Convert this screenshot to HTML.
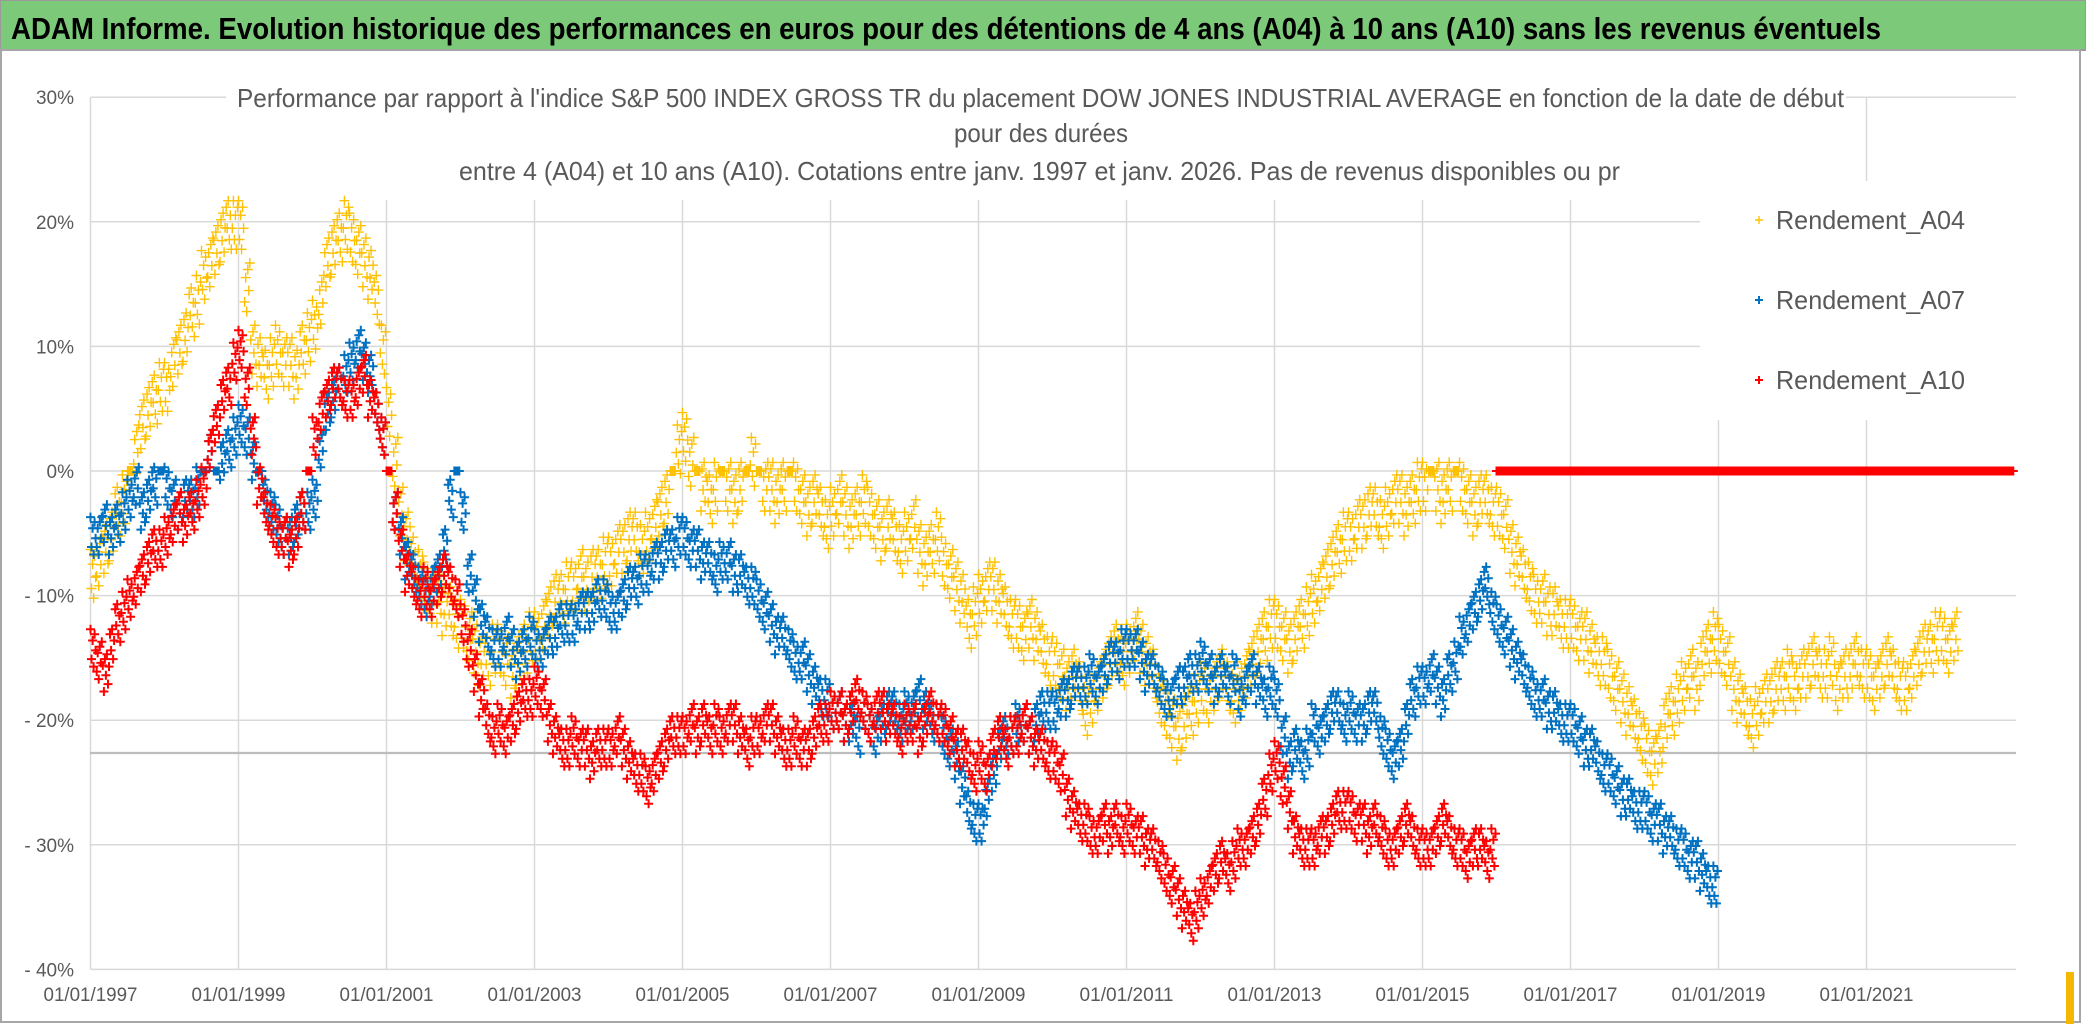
<!DOCTYPE html>
<html><head><meta charset="utf-8"><style>
html,body{margin:0;padding:0;background:#fff;width:2086px;height:1031px;overflow:hidden}
svg{display:block;font-family:"Liberation Sans",sans-serif}
</style></head><body>
<svg id="chart" width="2086" height="1031" viewBox="0 0 2086 1031" xmlns="http://www.w3.org/2000/svg">
<rect x="0" y="0" width="2086" height="1031" fill="#fff"/>
<rect x="0" y="0" width="2086" height="50" fill="#7dc97a" stroke="#9a9a9a" stroke-width="2"/>
<text x="11" y="39" font-size="31" font-weight="bold" fill="#000" textLength="1870" lengthAdjust="spacingAndGlyphs">ADAM Informe. Evolution historique des performances en euros pour des détentions de 4 ans (A04) à 10 ans (A10) sans les revenus éventuels</text>
<rect x="1" y="50" width="2079" height="972" fill="none" stroke="#a6a6a6" stroke-width="2"/>
<rect x="2066" y="972" width="8" height="52" fill="#f5b800"/>
<g id="grid"></g>
<rect x="226" y="75" width="1620" height="125" fill="#fff"/>
<rect x="1700" y="181" width="318" height="239" fill="#fff"/>
<line x1="90" y1="753" x2="2016" y2="753" stroke="#bdbdbd" stroke-width="2.2"/>
<g id="axes"></g>
<g id="marks"></g>
<g font-size="26" fill="#595959">
<text x="237" y="107" textLength="1607" lengthAdjust="spacingAndGlyphs">Performance par rapport à l'indice S&amp;P 500 INDEX GROSS TR  du placement DOW JONES INDUSTRIAL AVERAGE en fonction de la date de début</text>
<text x="954" y="142" textLength="174" lengthAdjust="spacingAndGlyphs">pour des durées</text>
<text x="459" y="180" textLength="1161" lengthAdjust="spacingAndGlyphs">entre 4 (A04) et 10 ans (A10). Cotations entre janv. 1997 et janv. 2026. Pas de revenus disponibles ou pr</text>
</g>
<g id="legend"></g>
</svg>
<script>
const NS="http://www.w3.org/2000/svg";
const yTicks=[30,20,10,0,-10,-20,-30,-40];
const yTickLabels=["30%","20%","10%","0%","- 10%","- 20%","- 30%","- 40%"];
const xTickYears=[1997,1999,2001,2003,2005,2007,2009,2011,2013,2015,2017,2019,2021];
const xTickLabels=["01/01/1997","01/01/1999","01/01/2001","01/01/2003","01/01/2005","01/01/2007","01/01/2009","01/01/2011","01/01/2013","01/01/2015","01/01/2017","01/01/2019","01/01/2021"];
const seriesNames=["Rendement_A04","Rendement_A07","Rendement_A10"];
const a04Start=1997;
const a04=[
-8,-7,-6,-5,-3,-2,0,2,4,5,6,7,
7,9,10,11,13,14,16,17,18,19,20,20,
20,15,10,9,8,9,10,9,9,8,10,11,
12,14,17,18,19,20,19,18,17,16,14,10,
5,1,-3,-5,-7,-8,-9,-10,-10,-11,-11,-12,
-12,-13,-14,-15,-15,-14,-14,-15,-16,-15,-14,-13,
-13,-12,-11,-10,-10,-9,-9,-8,-9,-8,-8,-7,
-7,-6,-6,-5,-5,-6,-5,-4,-3,-2,0,2,
3,1,0,-1,-2,-1,0,-1,-2,-1,0,1,
0,-1,-1,-2,-1,0,-1,-2,-3,-2,-3,-4,
-3,-2,-3,-4,-3,-2,-3,-4,-5,-4,-5,-6,
-5,-4,-6,-7,-6,-5,-7,-8,-9,-10,-12,-11,
-10,-9,-9,-10,-11,-12,-12,-13,-12,-13,-14,-15,
-15,-16,-17,-16,-17,-19,-18,-17,-16,-15,-14,-15,
-14,-13,-14,-15,-16,-18,-19,-20,-21,-20,-19,-18,
-17,-18,-17,-16,-17,-18,-17,-16,-15,-14,-13,-12,
-12,-13,-14,-13,-12,-11,-10,-9,-8,-7,-6,-5,
-5,-4,-4,-3,-3,-4,-3,-2,-2,-3,-2,-1,
-1,0,-1,-2,-1,0,-1,-2,-3,-2,-2,-3,
-3,-4,-6,-7,-8,-9,-10,-10,-11,-11,-12,-12,
-12,-13,-13,-14,-15,-15,-16,-17,-18,-19,-20,-21,
-22,-23,-22,-20,-19,-18,-17,-16,-17,-15,-14,-13,
-14,-15,-17,-18,-19,-20,-19,-18,-18,-17,-17,-16,
-17,-16,-16,-15,-16,-16,-15,-17,-16,-16,-15,-16,
-16,-17,-16,-15,-16,-17,-17,-16,-15,-14,-14,-13,
-13,-14,-13];
const a07Start=1997;
const a07=[
-5,-5,-4,-5,-4,-3,-2,-1,-3,-2,-1,0,
-1,-2,-3,-2,-2,-1,0,2,0,1,2,3,
4,3,1,0,-2,-3,-4,-5,-5,-4,-3,-3,
-2,2,5,6,7,8,9,10,9,8,5,3,
0,-3,-5,-7,-8,-9,-10,-9,-8,-6,-2,0,
-3,-8,-10,-12,-13,-14,-14,-13,-14,-15,-14,-13,
-14,-14,-13,-13,-12,-12,-12,-11,-11,-11,-10,-10,
-11,-11,-10,-9,-9,-8,-8,-7,-7,-6,-6,-5,
-5,-6,-6,-7,-7,-8,-7,-7,-8,-8,-9,-9,
-10,-11,-12,-13,-13,-14,-15,-15,-16,-17,-18,-18,
-19,-19,-20,-20,-21,-19,-20,-21,-20,-19,-19,-20,
-19,-19,-18,-19,-20,-20,-21,-22,-23,-25,-27,-28,
-28,-26,-24,-22,-21,-21,-20,-20,-21,-20,-19,-19,
-19,-18,-18,-17,-17,-17,-16,-17,-16,-15,-15,-14,
-14,-14,-15,-16,-16,-17,-18,-18,-17,-17,-16,-16,
-15,-16,-17,-16,-17,-16,-18,-17,-16,-17,-18,-17,
-18,-21,-23,-22,-23,-22,-20,-21,-20,-19,-19,-20,
-19,-20,-20,-19,-19,-21,-22,-23,-22,-20,-18,-17,
-17,-16,-17,-18,-16,-15,-13,-12,-11,-10,-9,-11,
-12,-13,-14,-15,-16,-17,-18,-18,-19,-19,-20,-20,
-20,-21,-22,-22,-23,-24,-24,-25,-26,-26,-27,-27,
-27,-28,-28,-29,-29,-30,-30,-31,-31,-32,-33,-33];
const a10Start=1997;
const a10=[
-14,-15,-16,-14,-12,-11,-10,-9,-8,-7,-6,-6,
-5,-4,-3,-4,-3,-2,-1,2,4,6,7,9,
10,7,3,-1,-3,-4,-5,-5,-6,-5,-3,0,
3,5,6,7,7,6,6,7,8,6,5,3,
0,-3,-6,-8,-9,-10,-9,-10,-9,-8,-9,-10,
-12,-14,-16,-18,-20,-21,-20,-21,-20,-19,-18,-18,
-17,-18,-20,-21,-22,-22,-21,-22,-22,-23,-22,-22,
-22,-21,-22,-23,-24,-24,-25,-24,-23,-22,-21,-21,
-21,-20,-21,-20,-21,-20,-21,-20,-20,-21,-22,-21,
-21,-20,-20,-21,-22,-22,-21,-22,-22,-21,-20,-20,
-19,-19,-20,-19,-18,-19,-20,-19,-19,-20,-20,-21,
-20,-20,-21,-20,-19,-20,-20,-21,-22,-22,-23,-24,
-23,-24,-22,-21,-22,-21,-21,-20,-21,-22,-22,-23,
-23,-24,-26,-27,-28,-28,-29,-29,-28,-29,-28,-29,
-28,-29,-29,-30,-30,-31,-32,-33,-34,-35,-36,-35,
-34,-33,-32,-31,-32,-31,-30,-30,-29,-28,-26,-24,
-23,-25,-27,-29,-30,-30,-30,-29,-29,-28,-27,-27,
-27,-28,-28,-29,-28,-29,-30,-30,-29,-28,-29,-30,
-30,-30,-29,-28,-29,-30,-30,-31,-30,-30,-31,-30,
0,0,0,0,0,0,0,0,0,0,0,0,
0,0,0,0,0,0,0,0,0,0,0,0,
0,0,0,0,0,0,0,0,0,0,0,0,
0,0,0,0,0,0,0,0,0,0,0,0,
0,0,0,0,0,0,0,0,0,0,0,0,
0,0,0,0,0,0,0,0,0,0,0,0,
0,0,0,0,0,0,0,0,0,0,0,0];

const X0=90.5,PX_PER_YEAR=74,Y0=471,PX_PER_PCT=12.46;
function xScale(year){return X0+(year-1997)*PX_PER_YEAR;}
function yScale(v){return Y0-v*PX_PER_PCT;}

const grid=document.getElementById('grid');
yTicks.forEach((t,i)=>{
  const l=document.createElementNS(NS,'line');
  l.setAttribute('x1',X0);l.setAttribute('x2',2016);
  l.setAttribute('y1',yScale(t));l.setAttribute('y2',yScale(t));
  l.setAttribute('stroke','#d9d9d9');l.setAttribute('stroke-width','1.5');
  
  
  grid.appendChild(l);
});
xTickYears.forEach((yr,i)=>{
  const l=document.createElementNS(NS,'line');
  l.setAttribute('x1',xScale(yr));l.setAttribute('x2',xScale(yr));
  l.setAttribute('y1',yScale(30));l.setAttribute('y2',yScale(-40));
  l.setAttribute('stroke','#d9d9d9');l.setAttribute('stroke-width','1.5');
  
  
  grid.appendChild(l);
});
const axes=document.getElementById('axes');
yTicks.forEach((t,i)=>{
  const tx=document.createElementNS(NS,'text');
  tx.setAttribute('x',74);tx.setAttribute('y',yScale(t)+7);
  tx.setAttribute('text-anchor','end');tx.setAttribute('font-size','19');tx.setAttribute('fill','#595959');
  tx.textContent=yTickLabels[i];
  
  
  axes.appendChild(tx);
});
xTickYears.forEach((yr,i)=>{
  const tx=document.createElementNS(NS,'text');
  tx.setAttribute('x',xScale(yr)-47);tx.setAttribute('y',1001);
  tx.setAttribute('font-size','19');tx.setAttribute('fill','#595959');
  tx.setAttribute('textLength','94');tx.setAttribute('lengthAdjust','spacingAndGlyphs');
  tx.textContent=xTickLabels[i];
  
  
  axes.appendChild(tx);
});

const marks=document.getElementById('marks');
const offs=[1.3,-1.1,0.4,-1.7,0.9,-0.4];
function plus(x,y,arm){
  return 'M'+(x-arm).toFixed(1)+' '+y.toFixed(1)+'h'+(2*arm)+'M'+x.toFixed(1)+' '+(y-arm).toFixed(1)+'v'+(2*arm);
}
function drawSeries(vals,start,color,w,arm,spread,name){
  const g=document.createElementNS(NS,'g');
  
  
  vals.forEach((v,i)=>{
    const n=v===0?5:6;
    for(let k=0;k<n;k++){
      const t=start+(i+k/n)/12;
      const val=v===0?0:v+offs[(k+i)%6]*spread;
      const p=document.createElementNS(NS,'path');
      p.setAttribute('d',plus(xScale(t),yScale(val),arm));
      p.setAttribute('stroke',color);p.setAttribute('stroke-width',w);p.setAttribute('fill','none');
      
      
      g.appendChild(p);
    }
  });
  marks.appendChild(g);
}
drawSeries(a04,a04Start,'#ffc000',1.4,5,1.3,'series-a04');
drawSeries(a07,a07Start,'#0070c0',2,4.5,1.0,'series-a07');
drawSeries(a10,a10Start,'#ff0000',2,4.5,1.0,'series-a10');

const legend=document.getElementById('legend');
const legColors=['#ffc000','#0070c0','#ff0000'];
const legY=[220,300,380];
seriesNames.forEach((nm,i)=>{
  const g=document.createElementNS(NS,'g');
  
  
  const p=document.createElementNS(NS,'path');
  p.setAttribute('d',plus(1759,legY[i],4));
  p.setAttribute('stroke',legColors[i]);p.setAttribute('stroke-width',i===0?1.4:2);
  
  
  g.appendChild(p);
  const t=document.createElementNS(NS,'text');
  t.setAttribute('x',1776);t.setAttribute('y',legY[i]+9);
  t.setAttribute('font-size','26');t.setAttribute('fill','#595959');
  t.setAttribute('textLength','189');t.setAttribute('lengthAdjust','spacingAndGlyphs');
  t.textContent=nm;
  
  
  g.appendChild(t);
  legend.appendChild(g);
});
</script>
</body></html>
